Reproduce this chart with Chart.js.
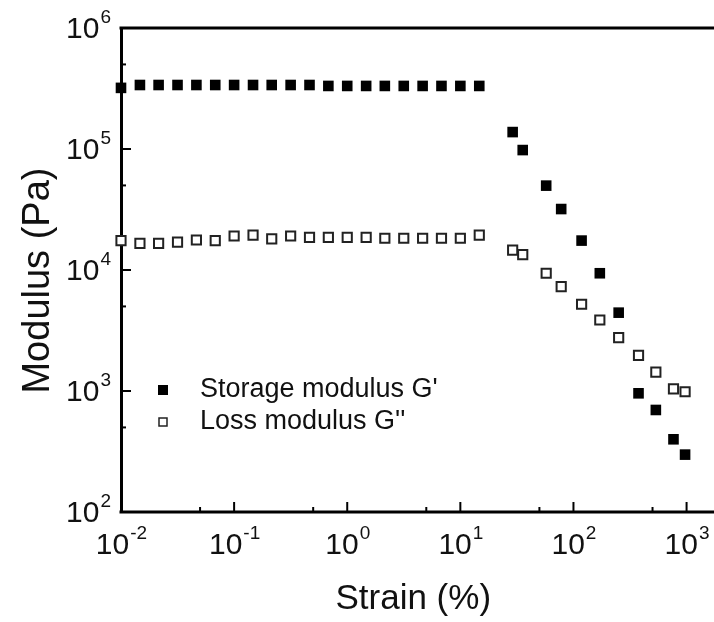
<!DOCTYPE html>
<html>
<head>
<meta charset="utf-8">
<script src="https://cdn.jsdelivr.net/npm/chart.js@4.4.1/dist/chart.umd.min.js"></script>
<style>
  body { margin: 0; background: #fff; }
  #wrap { width: 714px; height: 622px; }
</style>
</head>
<body>
<div id="wrap"><canvas id="grafico" width="714" height="622"></canvas></div>
<script>
// Valores
const strain = [0.01, 0.0147, 0.0215, 0.0316, 0.0464, 0.0681, 0.1, 0.147, 0.215, 0.316,
    0.464, 0.681, 1, 1.47, 2.15, 3.16, 4.64, 6.81, 10, 14.7,
    29.0, 35.6, 57.4, 77.9, 118, 171, 251, 376, 535, 766, 970]
const storage = [3.2e5, 3.38e5, 3.38e5, 3.38e5, 3.38e5, 3.38e5, 3.38e5, 3.38e5, 3.38e5, 3.38e5,
    3.38e5, 3.32e5, 3.32e5, 3.32e5, 3.32e5, 3.32e5, 3.32e5, 3.32e5, 3.32e5, 3.32e5,
    1.38e5, 9.8e4, 4.98e4, 3.19e4, 1.75e4, 9.4e3, 4.44e3, 957, 697, 399, 298]
const loss = [1.75e4, 1.66e4, 1.66e4, 1.70e4, 1.77e4, 1.75e4, 1.91e4, 1.94e4, 1.81e4, 1.91e4,
    1.86e4, 1.86e4, 1.86e4, 1.86e4, 1.83e4, 1.83e4, 1.83e4, 1.83e4, 1.83e4, 1.94e4,
    1.46e4, 1.34e4, 9.4e3, 7.28e3, 5.21e3, 3.86e3, 2.76e3, 1.97e3, 1.43e3, 1.04e3, 986]
const seriesNames = ["Storage modulus G'", "Loss modulus G''"]
const xExpoentes = [-2, -1, 0, 1, 2, 3]
const yExpoentes = [2, 3, 4, 5, 6]

const fonte = 'Liberation Sans, Arial, sans-serif'

function montarPontos(ys) {
    return strain.map((x, i) => ({ x: x, y: ys[i] }))
}

// desenha rotulos 10^n, marcas internas, bordas e legenda
const extras = {
    id: 'extras',
    afterDatasetsDraw(chart) {
        const ctx = chart.ctx
        const area = chart.chartArea
        const sx = chart.scales.x
        const sy = chart.scales.y
        ctx.save()
        ctx.strokeStyle = '#000'
        ctx.fillStyle = '#111'

        // bordas de cima e de baixo, ate a borda da imagem
        ctx.lineWidth = 3
        ctx.beginPath()
        ctx.moveTo(area.left - 1.5, area.top)
        ctx.lineTo(chart.width, area.top)
        ctx.moveTo(area.left - 1.5, area.bottom)
        ctx.lineTo(chart.width, area.bottom)
        ctx.stroke()

        // marcas
        ctx.lineWidth = 2
        xExpoentes.forEach(e => {
            const px = sx.getPixelForValue(Math.pow(10, e))
            ctx.beginPath(); ctx.moveTo(px, area.bottom); ctx.lineTo(px, area.bottom - 10); ctx.stroke()
            const pm = sx.getPixelForValue(5 * Math.pow(10, e))
            if (pm < area.right) {
                ctx.beginPath(); ctx.moveTo(pm, area.bottom); ctx.lineTo(pm, area.bottom - 5); ctx.stroke()
            }
        })
        yExpoentes.forEach(e => {
            const py = sy.getPixelForValue(Math.pow(10, e))
            ctx.beginPath(); ctx.moveTo(area.left, py); ctx.lineTo(area.left + 10, py); ctx.stroke()
            const pm = sy.getPixelForValue(5 * Math.pow(10, e))
            if (pm > area.top) {
                ctx.beginPath(); ctx.moveTo(area.left, pm); ctx.lineTo(area.left + 5, pm); ctx.stroke()
            }
        })

        // rotulos
        ctx.textBaseline = 'middle'
        xExpoentes.forEach(e => {
            const px = sx.getPixelForValue(Math.pow(10, e))
            ctx.font = '30px ' + fonte
            const w1 = ctx.measureText('10').width
            ctx.font = '19px ' + fonte
            const w2 = ctx.measureText(String(e)).width
            const x0 = px - (w1 + w2) / 2
            ctx.textAlign = 'left'
            ctx.font = '30px ' + fonte
            ctx.fillText('10', x0, area.bottom + 34)
            ctx.font = '19px ' + fonte
            ctx.fillText(String(e), x0 + w1 + 1, area.bottom + 22)
        })
        yExpoentes.forEach(e => {
            const py = sy.getPixelForValue(Math.pow(10, e))
            ctx.font = '19px ' + fonte
            const w2 = ctx.measureText(String(e)).width
            const xr = area.left - 10
            ctx.textAlign = 'right'
            ctx.fillText(String(e), xr, py - 10)
            ctx.font = '30px ' + fonte
            ctx.fillText('10', xr - w2 - 1, py + 2)
        })

        // legenda
        const linhas = [390, 422]
        chart.data.datasets.forEach((ds, i) => {
            const y = linhas[i]
            const lado = i == 0 ? 10 : 8
            if (i == 0) {
                ctx.fillStyle = '#000'
                ctx.fillRect(163 - lado / 2, y - lado / 2, lado, lado)
            } else {
                ctx.lineWidth = 1.5
                ctx.strokeStyle = '#222'
                ctx.strokeRect(163 - lado / 2, y - lado / 2, lado, lado)
            }
            ctx.fillStyle = '#111'
            ctx.font = '27px ' + fonte
            ctx.textAlign = 'left'
            ctx.fillText(ds.label, 200, y)
        })
        ctx.restore()
    }
}

const ctx = document.getElementById('grafico')

new Chart(ctx, {
    type: 'scatter',
    data: {
        datasets: [{
            label: seriesNames[0],
            data: montarPontos(storage),
            pointStyle: 'rect',
            pointRadius: 7.5,
            pointBackgroundColor: '#000',
            pointBorderWidth: 0,
            clip: false
        }, {
            label: seriesNames[1],
            data: montarPontos(loss),
            pointStyle: 'rect',
            pointRadius: 6.5,
            pointBackgroundColor: '#fff',
            pointBorderColor: '#222',
            pointBorderWidth: 2,
            clip: false
        }]
    },
    options: {
        responsive: false,
        animation: false,
        layout: { padding: { top: 28, right: 0, left: 0, bottom: 0 } },
        plugins: {
            legend: { display: false },
            tooltip: { enabled: false }
        },
        scales: {
            x: {
                type: 'logarithmic',
                min: 0.01,
                max: 1470,
                grid: { display: false, drawTicks: false },
                border: { display: false },
                ticks: { display: false },
                title: {
                    display: true,
                    text: 'Strain (%)',
                    color: '#111',
                    font: { family: fonte, size: 35 },
                    padding: { top: 0, bottom: 2 }
                },
                afterFit(scale) { scale.height = 110 }
            },
            y: {
                type: 'logarithmic',
                min: 100,
                max: 1e6,
                grid: { display: false, drawTicks: false },
                border: { display: true, color: '#000', width: 3 },
                ticks: { display: false },
                title: {
                    display: true,
                    text: 'Modulus (Pa)  ',
                    color: '#111',
                    font: { family: fonte, size: 38 },
                    padding: { top: 16, bottom: 0 }
                },
                afterFit(scale) { scale.width = 121 }
            }
        }
    },
    plugins: [extras]
});
</script>
</body>
</html>
